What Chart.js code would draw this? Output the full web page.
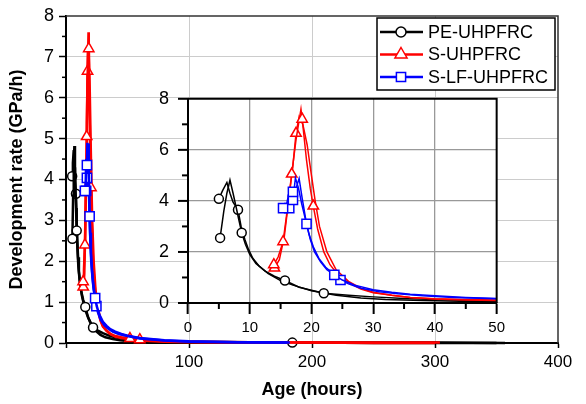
<!DOCTYPE html>
<html>
<head>
<meta charset="utf-8">
<script src="https://cdn.jsdelivr.net/npm/chart.js@4"></script>
<style>
  html, body { margin: 0; padding: 0; background: #fff; }
  #wrap { position: relative; width: 586px; height: 404px; }
  #main { position: absolute; left: 0; top: 0; }
  #inset { position: absolute; left: 130px; top: 83px; }
</style>
</head>
<body>
<div id="wrap">
  <canvas id="main" width="586" height="404" style="width:586px;height:404px"></canvas>
  <canvas id="inset" width="380" height="257" style="width:380px;height:257px"></canvas>
</div>
<script>
// two specimens per mix (age in hours, rate in GPa/h)
const seriesNames = ['PE-UHPFRC', 'S-UHPFRC', 'S-LF-UHPFRC'];

const peAgeA  = [5.2, 5.8, 6.3, 6.8, 7.3, 7.8, 8.2, 8.7, 9.3, 10, 11, 12.5, 14, 15.7, 18, 22, 26, 30, 35, 40, 45, 50, 60, 80, 100, 150, 184, 250, 300, 357];
const peRateA = [2.55, 3.6, 4.3, 4.82, 4.3, 3.75, 3.3, 2.75, 2.3, 1.9, 1.55, 1.25, 1.05, 0.88, 0.62, 0.38, 0.3, 0.24, 0.18, 0.14, 0.11, 0.09, 0.06, 0.04, 0.03, 0.02, 0.01, 0.01, 0.01, 0];
const peAgeB  = [5.0, 5.6, 6.3, 6.8, 7.3, 8.1, 8.6, 9.2, 9.8, 10.5, 11.5, 13, 15, 17, 20, 24, 28, 32, 38, 44, 50, 60, 80, 100, 150, 200, 250, 300, 350];
const peRateB = [4.08, 4.4, 4.72, 4.3, 3.95, 3.65, 3.0, 2.5, 2.1, 1.75, 1.45, 1.15, 0.88, 0.7, 0.48, 0.3, 0.2, 0.14, 0.1, 0.07, 0.05, 0.04, 0.03, 0.02, 0.01, 0.01, 0, 0, 0];

const sAgeA  = [13.9, 14.6, 15.4, 16.0, 16.8, 17.5, 18.3, 18.5, 19.2, 19.8, 20.3, 21, 22, 23, 24.5, 26, 28, 30, 33, 36, 40, 45, 50, 52, 60, 80, 100, 150, 200, 250, 304];
const sRateA = [1.5, 1.8, 2.4, 3.5, 5.05, 6.4, 7.6, 7.2, 5.6, 4.5, 3.8, 2.9, 2.0, 1.5, 1.05, 0.8, 0.55, 0.4, 0.3, 0.22, 0.17, 0.14, 0.12, 0.11, 0.08, 0.04, 0.03, 0.02, 0.01, 0.01, 0.01];
const sAgeB  = [14.0, 14.8, 15.6, 16.3, 17.0, 17.5, 18.0, 18.6, 19.3, 20.0, 20.6, 21.3, 22.5, 24, 26, 28, 30, 33, 36, 40, 45, 50, 56, 80, 100, 150, 200, 250, 300];
const sRateB = [1.37, 1.7, 2.6, 4.0, 5.4, 6.65, 7.3, 7.0, 6.2, 5.0, 4.0, 3.0, 2.0, 1.3, 0.85, 0.58, 0.42, 0.3, 0.22, 0.16, 0.12, 0.1, 0.07, 0.03, 0.02, 0.01, 0.01, 0, 0];

const lfAgeA  = [15.4, 16.0, 16.5, 17.0, 17.5, 18.0, 18.5, 19.2, 19.8, 20.5, 21.5, 22.5, 23.7, 25, 27, 30, 33, 36, 40, 45, 50, 60, 80, 100, 140, 182];
const lfRateA = [3.72, 3.9, 4.5, 4.35, 4.5, 4.88, 4.1, 3.1, 2.5, 2.0, 1.6, 1.3, 1.1, 0.9, 0.7, 0.52, 0.42, 0.34, 0.28, 0.22, 0.18, 0.12, 0.07, 0.04, 0.02, 0.01];
const lfAgeB  = [16.4, 16.8, 17.0, 17.4, 17.9, 18.4, 19.0, 19.6, 20.3, 21.2, 22.3, 23.5, 24.7, 26, 28, 31, 34, 38, 43, 50, 60, 80, 100, 140, 180];
const lfRateB = [3.72, 4.2, 4.04, 4.9, 4.5, 3.9, 3.3, 2.7, 2.2, 1.75, 1.4, 1.15, 0.9, 0.75, 0.58, 0.44, 0.36, 0.28, 0.22, 0.17, 0.11, 0.06, 0.03, 0.02, 0.01];

const xTicksMain = [0, 100, 200, 300, 400];
const yTicksMain = [0, 1, 2, 3, 4, 5, 6, 7, 8];

const FONT = "'Liberation Sans', Arial, sans-serif";
const colors = ['#000000', '#ff0000', '#0000ff'];
const styles = ['circle', 'triangle', 'rect'];
const radii = [4.5, 6, 6.5];

// which points carry a symbol
const specimens = [
  { mix: 0, age: peAgeA, rate: peRateA, marks: [0, 7, 13, 15, 26] },
  { mix: 0, age: peAgeB, rate: peRateB, marks: [0, 5] },
  { mix: 1, age: sAgeA, rate: sRateA, marks: [0, 2, 4, 7, 10, 23, 24] },
  { mix: 1, age: sAgeB, rate: sRateB, marks: [0, 5] },
  { mix: 2, age: lfAgeA, rate: lfRateA, marks: [0, 3, 7, 12] },
  { mix: 2, age: lfAgeB, rate: lfRateB, marks: [0, 2, 12] }
];

function buildSets(lineW, clip) {
  return specimens.map(s => ({
    label: seriesNames[s.mix],
    data: s.age.map((a, i) => ({ x: a, y: s.rate[i] })),
    showLine: true,
    borderColor: colors[s.mix],
    borderWidth: lineW,
    backgroundColor: '#fff',
    pointStyle: styles[s.mix],
    pointRadius: c => s.marks.includes(c.dataIndex) ? radii[s.mix] : 0,
    pointHoverRadius: 0,
    pointBorderColor: colors[s.mix],
    pointBackgroundColor: '#fff',
    pointBorderWidth: 1.5,
    order: 2 - s.mix,
    tension: 0,
    clip: clip
  }));
}

function drawMarker(ctx, style, x, y, r) {
  ctx.beginPath();
  if (style === 'circle') {
    ctx.arc(x, y, r, 0, Math.PI * 2);
  } else if (style === 'triangle') {
    ctx.moveTo(x, y - r);
    ctx.lineTo(x + r * 0.866, y + r / 2);
    ctx.lineTo(x - r * 0.866, y + r / 2);
    ctx.closePath();
  } else {
    const h = r * Math.SQRT1_2;
    ctx.rect(x - h, y - h, 2 * h, 2 * h);
  }
  ctx.fill();
  ctx.stroke();
}

const mainExtras = {
  id: 'mainExtras',
  afterDraw(chart) {
    const { ctx, chartArea: a, scales: { y } } = chart;
    ctx.save();
    ctx.strokeStyle = '#000';
    ctx.lineWidth = 1.5;
    for (let v = 0.5; v < 8; v += 1) {
      const py = y.getPixelForValue(v);
      ctx.beginPath(); ctx.moveTo(a.left - 4, py); ctx.lineTo(a.left, py); ctx.stroke();
    }
    // frame top and right
    ctx.strokeStyle = '#333';
    ctx.beginPath();
    ctx.moveTo(a.left, a.top); ctx.lineTo(a.right, a.top); ctx.lineTo(a.right, a.bottom);
    ctx.stroke();

    // legend
    const bx = 377, by = 18, bw = 178, bh = 72;
    ctx.fillStyle = '#fff';
    ctx.fillRect(bx, by, bw, bh);
    ctx.strokeStyle = '#000';
    ctx.lineWidth = 1.5;
    ctx.strokeRect(bx, by, bw, bh);
    ctx.font = '18px ' + FONT;
    ctx.textBaseline = 'middle';
    ctx.textAlign = 'left';
    seriesNames.forEach((name, i) => {
      const ry = by + 14 + i * 22.5;
      ctx.strokeStyle = colors[i];
      ctx.lineWidth = 2.5;
      ctx.beginPath(); ctx.moveTo(380, ry); ctx.lineTo(423, ry); ctx.stroke();
      ctx.fillStyle = '#fff';
      ctx.lineWidth = 1.5;
      drawMarker(ctx, styles[i], 401, ry, [5, 7, 6.5][i]);
      ctx.fillStyle = '#000';
      ctx.fillText(name, 428, ry + 1);
    });
    ctx.restore();
  }
};

const insetExtras = {
  id: 'insetExtras',
  beforeDraw(chart) {
    const { ctx, chartArea: a } = chart;
    ctx.save();
    ctx.fillStyle = '#fff';
    ctx.fillRect(a.left, a.top, a.right - a.left, a.bottom - a.top);
    ctx.restore();
  },
  afterDraw(chart) {
    const { ctx, chartArea: a, scales: { x, y } } = chart;
    ctx.save();
    ctx.strokeStyle = '#000';
    ctx.lineWidth = 2;
    // y ticks: major 10px, minor 6px, pointing out
    for (let v = 0; v <= 8; v += 1) {
      const py = y.getPixelForValue(v);
      const len = v % 2 === 0 ? 10 : 6;
      ctx.beginPath(); ctx.moveTo(a.left - len, py); ctx.lineTo(a.left, py); ctx.stroke();
    }
    for (let v = 5; v < 50; v += 10) {
      const px = x.getPixelForValue(v);
      ctx.beginPath(); ctx.moveTo(px, a.bottom); ctx.lineTo(px, a.bottom + 6); ctx.stroke();
    }
    ctx.beginPath();
    ctx.moveTo(a.left, a.top); ctx.lineTo(a.right, a.top); ctx.lineTo(a.right, a.bottom);
    ctx.stroke();
    ctx.restore();
  }
};

new Chart(document.getElementById('main').getContext('2d'), {
  type: 'scatter',
  data: { datasets: buildSets(2.5, false) },
  options: {
    responsive: false,
    animation: false,
    events: [],
    layout: { padding: { left: 0, top: 16, right: 28, bottom: 0 } },
    plugins: { legend: { display: false }, tooltip: { enabled: false } },
    scales: {
      x: {
        type: 'linear',
        min: xTicksMain[0],
        max: xTicksMain[xTicksMain.length - 1],
        afterBuildTicks: s => { s.ticks = xTicksMain.map(v => ({ value: v })); },
        ticks: {
          callback: v => v === 0 ? '' : v,
          font: { family: FONT, size: 17 },
          color: '#000',
          padding: 4,
          maxRotation: 0
        },
        grid: {
          color: c => (c.tick && c.tick.value > 0 && c.tick.value < 400) ? '#cccccc' : 'transparent',
          tickColor: '#000',
          tickLength: 5,
          tickWidth: 1.5
        },
        border: { color: '#000', width: 2 },
        title: {
          display: true,
          text: 'Age (hours)',
          color: '#000',
          font: { family: FONT, size: 18, weight: 'bold' },
          padding: { top: 0, bottom: 3 }
        },
        afterFit: s => { s.height = 61; }
      },
      y: {
        type: 'linear',
        min: yTicksMain[0],
        max: yTicksMain[yTicksMain.length - 1],
        afterBuildTicks: s => { s.ticks = yTicksMain.map(v => ({ value: v })); },
        ticks: {
          font: { family: FONT, size: 18 },
          color: '#000',
          padding: 5
        },
        grid: {
          color: c => (c.tick && c.tick.value > 0 && c.tick.value < 8) ? '#cccccc' : 'transparent',
          tickColor: '#000',
          tickLength: 7,
          tickWidth: 1.5
        },
        border: { color: '#000', width: 2 },
        title: {
          display: true,
          text: 'Development rate (GPa/h)',
          color: '#000',
          font: { family: FONT, size: 18, weight: 'bold' },
          padding: { top: 6, bottom: 0 }
        },
        afterFit: s => { s.width = 66; }
      }
    }
  },
  plugins: [mainExtras]
});

new Chart(document.getElementById('inset').getContext('2d'), {
  type: 'scatter',
  data: { datasets: buildSets(1.5, true) },
  options: {
    responsive: false,
    animation: false,
    events: [],
    layout: { padding: { left: 0, top: 10, right: 13, bottom: 0 } },
    plugins: { legend: { display: false }, tooltip: { enabled: false } },
    scales: {
      x: {
        type: 'linear',
        min: 0,
        max: 50,
        ticks: { stepSize: 10, font: { family: FONT, size: 15 }, color: '#000', padding: 5, maxRotation: 0 },
        grid: {
          color: c => (c.tick && c.tick.value > 0 && c.tick.value < 50) ? '#999999' : 'transparent',
          lineWidth: 1.3,
          tickColor: '#000',
          tickLength: 11,
          tickWidth: 2
        },
        border: { color: '#000', width: 2 },
        afterFit: s => { s.height = 37; }
      },
      y: {
        type: 'linear',
        min: 0,
        max: 8,
        ticks: { stepSize: 2, font: { family: FONT, size: 18 }, color: '#000', padding: 5 },
        grid: {
          color: c => (c.tick && c.tick.value > 0 && c.tick.value < 8) ? '#999999' : 'transparent',
          lineWidth: 1.3,
          tickColor: 'transparent',
          tickLength: 14,
          tickWidth: 2
        },
        border: { color: '#000', width: 2 },
        afterFit: s => { s.width = 58; }
      }
    }
  },
  plugins: [insetExtras]
});
</script>
</body>
</html>
